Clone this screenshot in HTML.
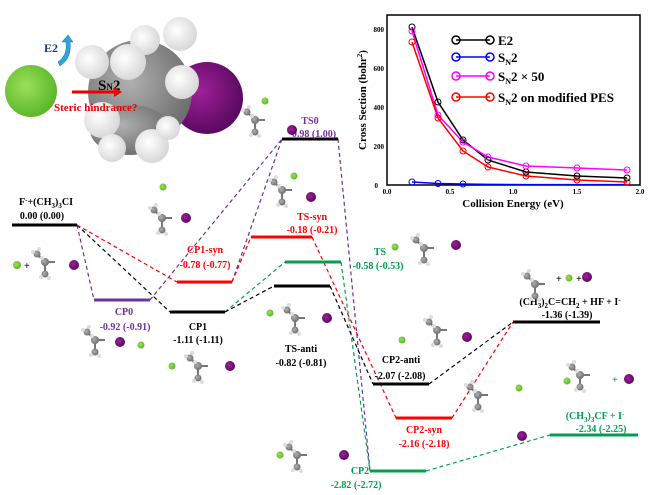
<!DOCTYPE html>
<html><head><meta charset="utf-8"><style>
html,body{margin:0;padding:0;background:#fff;}
svg{display:block;font-family:"Liberation Serif",serif;font-weight:bold;}
</style></head><body>
<svg width="650" height="495" viewBox="0 0 650 495" xmlns="http://www.w3.org/2000/svg">
<defs>
<radialGradient id="gg" cx="0.4" cy="0.4" r="0.6"><stop offset="0" stop-color="#9be05a"/><stop offset="1" stop-color="#5cb82a"/></radialGradient>
<radialGradient id="pg" cx="0.4" cy="0.4" r="0.6"><stop offset="0" stop-color="#a0209a"/><stop offset="1" stop-color="#5a0a60"/></radialGradient>
<radialGradient id="wg" cx="0.4" cy="0.4" r="0.6"><stop offset="0" stop-color="#ffffff"/><stop offset="1" stop-color="#d8d8d8"/></radialGradient>
<radialGradient id="cg" cx="0.4" cy="0.4" r="0.6"><stop offset="0" stop-color="#b0b0b0"/><stop offset="1" stop-color="#707070"/></radialGradient>
<g id="m1"><line x1="-8" y1="-8" x2="0" y2="0" stroke="#777" stroke-width="2"/><line x1="0" y1="0" x2="0" y2="12" stroke="#777" stroke-width="2"/><line x1="0" y1="0" x2="10" y2="0" stroke="#777" stroke-width="2"/><circle cx="0" cy="0" r="4" fill="url(#cg)"/><circle cx="-8" cy="-8" r="3.5" fill="url(#cg)"/><circle cx="0" cy="12" r="3.5" fill="url(#cg)"/><circle cx="-12" cy="-10" r="2" fill="#ddd"/><circle cx="-6" cy="-13" r="2" fill="#ddd"/><circle cx="-4" cy="15" r="2" fill="#ddd"/><circle cx="4" cy="16" r="2" fill="#ddd"/><circle cx="-3" cy="-4" r="2" fill="#ddd"/></g>
</defs>
<!-- big space-filling molecule -->
<circle cx="31" cy="91" r="26" fill="url(#gg)"/>
<circle cx="207" cy="98" r="36" fill="url(#pg)"/>
<ellipse cx="140" cy="92" rx="52" ry="52" fill="url(#cg)"/>
<ellipse cx="130" cy="130" rx="40" ry="25" fill="url(#cg)"/>
<circle cx="145" cy="40" r="15" fill="url(#wg)"/>
<circle cx="180" cy="34" r="17" fill="url(#wg)"/>
<circle cx="92" cy="62" r="17" fill="url(#wg)"/>
<circle cx="128" cy="62" r="18" fill="url(#wg)"/>
<circle cx="182" cy="82" r="17" fill="url(#wg)"/>
<circle cx="102" cy="120" r="18" fill="url(#wg)"/>
<circle cx="112" cy="148" r="14" fill="url(#wg)"/>
<circle cx="152" cy="146" r="17" fill="url(#wg)"/>
<circle cx="168" cy="128" r="12" fill="url(#wg)"/>
<path d="M58 62 Q68 55 66 42 L62 42 L68 35 L73 42 L70 42 Q72 58 60 66 Z" fill="#29a6e0" stroke="#1a6fa0" stroke-width="0.5"/>
<text x="44" y="52" font-size="12" fill="#1a3a80">E2</text>
<text x="98" y="90" font-size="15" fill="#000">S<tspan font-size="9">N</tspan>2</text>
<line x1="72" y1="92" x2="116" y2="92" stroke="#e00" stroke-width="3"/>
<polygon points="114,87 122,92 114,97" fill="#e00"/>
<text x="54" y="111" font-size="11" fill="#e00">Steric hindrance?</text>

<!-- inset plot -->
<g font-size="8">
<rect x="387" y="15" width="253" height="170" fill="none" stroke="#000" stroke-width="1.5"/>
<g fill="#000" font-size="7">
<text x="378" y="188" text-anchor="end">0</text>
<text x="384" y="149" text-anchor="end">200</text>
<text x="384" y="110" text-anchor="end">400</text>
<text x="384" y="71" text-anchor="end">600</text>
<text x="384" y="32" text-anchor="end">800</text>
<text x="387" y="194" text-anchor="middle">0.0</text>
<text x="450" y="194" text-anchor="middle">0.5</text>
<text x="513" y="194" text-anchor="middle">1.0</text>
<text x="577" y="194" text-anchor="middle">1.5</text>
<text x="640" y="194" text-anchor="middle">2.0</text>
</g>
<text x="513" y="207" font-size="11" text-anchor="middle">Collision Energy (eV)</text>
<text transform="translate(366,100) rotate(-90)" font-size="11" text-anchor="middle">Cross Section (bohr<tspan font-size="7" dy="-4">2</tspan><tspan dy="4">)</tspan></text>
<g fill="none" stroke-width="1.5">
<polyline stroke="#000" points="412,27 438,102 463,140 488,160 526,172 577,176 627,178"/>
<polyline stroke="#f0f" points="412,31 438,115 463,142 488,157 526,166 577,168 627,170"/>
<polyline stroke="#f00" points="412,42 438,118 463,151 488,167 526,176 577,180 627,182"/>
<polyline stroke="#00f" points="412,182 438,183.5 463,184 488,184.4 526,184.6 577,184.6 627,184.6"/>
</g>
<g fill="none" stroke-width="1">
<g stroke="#000"><circle cx="412" cy="27" r="3"/><circle cx="438" cy="102" r="3"/><circle cx="463" cy="140" r="3"/><circle cx="488" cy="160" r="3"/><circle cx="526" cy="172" r="3"/><circle cx="577" cy="176" r="3"/><circle cx="627" cy="178" r="3"/></g>
<g stroke="#f0f"><circle cx="412" cy="31" r="3"/><circle cx="438" cy="115" r="3"/><circle cx="463" cy="142" r="3"/><circle cx="488" cy="157" r="3"/><circle cx="526" cy="166" r="3"/><circle cx="577" cy="168" r="3"/><circle cx="627" cy="170" r="3"/></g>
<g stroke="#f00"><circle cx="412" cy="42" r="3"/><circle cx="438" cy="118" r="3"/><circle cx="463" cy="151" r="3"/><circle cx="488" cy="167" r="3"/><circle cx="526" cy="176" r="3"/><circle cx="577" cy="180" r="3"/><circle cx="627" cy="182" r="3"/></g>
<g stroke="#00f"><circle cx="412" cy="182" r="3"/><circle cx="438" cy="183.5" r="3"/><circle cx="463" cy="184" r="3"/></g>
</g>
<g stroke-width="1.5" fill="none">
<line x1="456" y1="40" x2="490" y2="40" stroke="#000"/><circle cx="456" cy="40" r="4" stroke="#000"/><circle cx="490" cy="40" r="4" stroke="#000"/>
<line x1="456" y1="57" x2="490" y2="57" stroke="#00f"/><circle cx="456" cy="57" r="4" stroke="#00f"/><circle cx="490" cy="57" r="4" stroke="#00f"/>
<line x1="456" y1="76" x2="490" y2="76" stroke="#f0f"/><circle cx="456" cy="76" r="4" stroke="#f0f"/><circle cx="490" cy="76" r="4" stroke="#f0f"/>
<line x1="456" y1="97" x2="490" y2="97" stroke="#f00"/><circle cx="456" cy="97" r="4" stroke="#f00"/><circle cx="490" cy="97" r="4" stroke="#f00"/>
</g>
<g font-size="13" fill="#000">
<text x="498" y="45">E2</text>
<text x="498" y="62">S<tspan font-size="8" dy="3">N</tspan><tspan dy="-3">2</tspan></text>
<text x="498" y="81">S<tspan font-size="8" dy="3">N</tspan><tspan dy="-3">2 × 50</tspan></text>
<text x="498" y="102">S<tspan font-size="8" dy="3">N</tspan><tspan dy="-3">2 on modified PES</tspan></text>
</g>
</g>

<!-- connectors -->
<g fill="none" stroke-width="1.2" stroke-dasharray="4,3">
<line x1="77" y1="225" x2="94" y2="300" stroke="#7030a0"/>
<line x1="77" y1="225" x2="170" y2="312" stroke="#000"/>
<line x1="77" y1="225" x2="177" y2="282" stroke="#f00"/>
<line x1="150" y1="300" x2="282" y2="139" stroke="#7030a0"/>
<line x1="232" y1="282" x2="282" y2="139" stroke="#7030a0"/>
<line x1="232" y1="282" x2="251" y2="237" stroke="#f00"/>
<line x1="225" y1="312" x2="285" y2="262" stroke="#00a050"/>
<line x1="225" y1="312" x2="274" y2="286" stroke="#000"/>
<line x1="338" y1="139" x2="370" y2="471" stroke="#7030a0"/>
<line x1="312" y1="237" x2="396" y2="418" stroke="#f00"/>
<line x1="341" y1="262" x2="370" y2="471" stroke="#00a050"/>
<line x1="330" y1="286" x2="373" y2="384" stroke="#000"/>
<line x1="429" y1="384" x2="513" y2="322" stroke="#000"/>
<line x1="452" y1="418" x2="513" y2="322" stroke="#f00"/>
<line x1="426" y1="471" x2="550" y2="435" stroke="#00a050"/>
</g>
<g stroke-width="3">
<line x1="12" y1="225" x2="77" y2="225" stroke="#000"/>
<line x1="94" y1="300" x2="150" y2="300" stroke="#7030a0"/>
<line x1="170" y1="312" x2="225" y2="312" stroke="#000"/>
<line x1="177" y1="282" x2="232" y2="282" stroke="#f00"/>
<line x1="251" y1="237" x2="312" y2="237" stroke="#f00"/>
<line x1="285" y1="262" x2="341" y2="262" stroke="#00a050"/>
<line x1="274" y1="286" x2="330" y2="286" stroke="#000"/>
<line x1="282" y1="139" x2="338" y2="139" stroke="#000"/>
<line x1="373" y1="384" x2="429" y2="384" stroke="#000"/>
<line x1="396" y1="418" x2="452" y2="418" stroke="#f00"/>
<line x1="370" y1="471" x2="426" y2="471" stroke="#00a050"/>
<line x1="513" y1="322" x2="600" y2="322" stroke="#000"/>
<line x1="550" y1="435" x2="638" y2="435" stroke="#00a050"/>
</g>
<g font-size="10" text-anchor="middle">
<text x="46" y="205" fill="#000">F<tspan font-size="7" dy="-3">-</tspan><tspan dy="3">+(CH</tspan><tspan font-size="7" dy="3">3</tspan><tspan dy="-3">)</tspan><tspan font-size="7" dy="3">3</tspan><tspan dy="-3">CI</tspan></text>
<text x="42" y="219" fill="#000">0.00 (0.00)</text>
<text x="310" y="124" fill="#7030a0">TS0</text>
<text x="314" y="137" fill="#7030a0">0.98 (1.00)</text>
<text x="205" y="253" fill="#f00">CP1-syn</text>
<text x="205" y="268" fill="#f00">-0.78 (-0.77)</text>
<text x="312" y="220" fill="#f00">TS-syn</text>
<text x="312" y="233" fill="#f00">-0.18 (-0.21)</text>
<text x="380" y="255" fill="#00a050">TS</text>
<text x="378" y="269" fill="#00a050">-0.58 (-0.53)</text>
<text x="124" y="315" fill="#7030a0">CP0</text>
<text x="125" y="330" fill="#7030a0">-0.92 (-0.91)</text>
<text x="198" y="330" fill="#000">CP1</text>
<text x="198" y="343" fill="#000">-1.11 (-1.11)</text>
<text x="301" y="352" fill="#000">TS-anti</text>
<text x="301" y="366" fill="#000">-0.82 (-0.81)</text>
<text x="401" y="363" fill="#000">CP2-anti</text>
<text x="400" y="379" fill="#000">-2.07 (-2.08)</text>
<text x="424" y="433" fill="#f00">CP2-syn</text>
<text x="424" y="447" fill="#f00">-2.16 (-2.18)</text>
<text x="360" y="474" fill="#00a050">CP2</text>
<text x="356" y="488" fill="#00a050">-2.82 (-2.72)</text>
<text x="570" y="305" fill="#000">(CH<tspan font-size="7" dy="3">3</tspan><tspan dy="-3">)</tspan><tspan font-size="7" dy="3">2</tspan><tspan dy="-3">C=CH</tspan><tspan font-size="7" dy="3">2</tspan><tspan dy="-3"> + HF + I</tspan><tspan font-size="7" dy="-3">-</tspan></text>
<text x="567" y="318" fill="#000">-1.36 (-1.39)</text>
<text x="595" y="419" fill="#00a050">(CH<tspan font-size="7" dy="3">3</tspan><tspan dy="-3">)</tspan><tspan font-size="7" dy="3">3</tspan><tspan dy="-3">CF + I</tspan><tspan font-size="7" dy="-3">-</tspan></text>
<text x="601" y="432" fill="#00a050">-2.34 (-2.25)</text>
</g>
<g>
<use href="#m1" x="255" y="120"/>
<use href="#m1" x="282" y="190"/>
<use href="#m1" x="162" y="218"/>
<use href="#m1" x="45" y="262"/>
<use href="#m1" x="95" y="340"/>
<use href="#m1" x="198" y="366"/>
<use href="#m1" x="424" y="248"/>
<use href="#m1" x="295" y="318"/>
<use href="#m1" x="437" y="330"/>
<use href="#m1" x="535" y="284"/>
<use href="#m1" x="478" y="395"/>
<use href="#m1" x="580" y="375"/>
<use href="#m1" x="297" y="455"/>
<g fill="url(#gg)">
<circle cx="265" cy="101" r="3.5"/><circle cx="294" cy="176" r="3.5"/><circle cx="163" cy="187" r="3.5"/><circle cx="17" cy="265" r="4"/><circle cx="141" cy="345" r="3.5"/><circle cx="172" cy="366" r="3.5"/><circle cx="395" cy="247" r="3.5"/><circle cx="270" cy="313" r="3.5"/><circle cx="402" cy="340" r="3.5"/><circle cx="569" cy="278" r="3.5"/><circle cx="519" cy="388" r="3.5"/><circle cx="567" cy="381" r="3.5"/><circle cx="280" cy="455" r="3.5"/>
</g>
<g fill="url(#pg)">
<circle cx="292" cy="130" r="5"/><circle cx="311" cy="197" r="5"/><circle cx="186" cy="218" r="5"/><circle cx="74" cy="265" r="5"/><circle cx="120" cy="342" r="5"/><circle cx="230" cy="366" r="5"/><circle cx="456" cy="245" r="5"/><circle cx="327" cy="318" r="5"/><circle cx="467" cy="337" r="5"/><circle cx="587" cy="277" r="5"/><circle cx="522" cy="436" r="5"/><circle cx="629" cy="379" r="5"/><circle cx="344" cy="455" r="5"/>
</g>
<g font-size="10" fill="#000"><text x="24" y="269">+</text><text x="556" y="282">+</text><text x="576" y="282">+</text></g>
<text x="612" y="383" font-size="10" fill="#00a050">+</text>
</g>
</svg>
</body></html>
